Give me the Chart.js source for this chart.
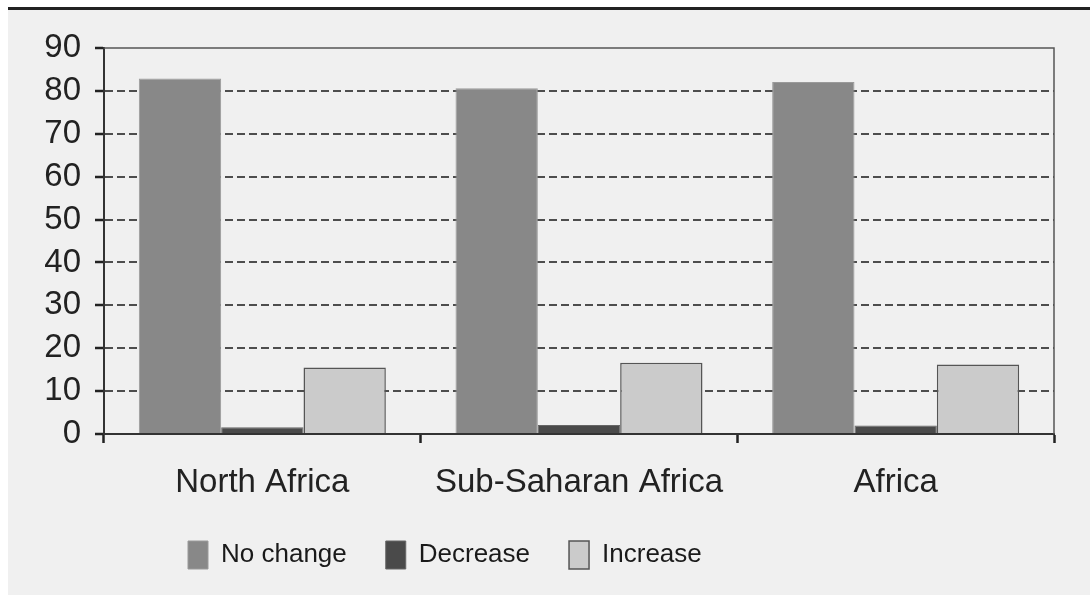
<!DOCTYPE html>
<html>
<head>
<meta charset="utf-8">
<script src="https://cdn.jsdelivr.net/npm/chart.js@4"></script>
<style>
  html, body { margin: 0; padding: 0; background: #fff; }
  #wrap {
    position: absolute; left: 8px; top: 7px;
    width: 1082px; height: 585px;
    background: #f0f0f0; border-top: 3px solid #222;
  }
</style>
</head>
<body>
<div id="wrap"><canvas id="chart" width="1082" height="585"></canvas></div>
<script>
'use strict';

// ------- Data ------- //
const regions = ['North Africa', 'Sub-Saharan Africa', 'Africa'];
const noChange = [82.9, 80.6, 82.1];
const decrease = [1.6, 2.1, 2.0];
const increase = [15.5, 16.6, 16.2];
const yTicks = [0, 10, 20, 30, 40, 50, 60, 70, 80, 90];

const font = "'Liberation Sans', Arial, sans-serif";

// frame on top and right of the plot area
const framePlugin = {
  id: 'frame',
  afterDraw(chart) {
    const { ctx, chartArea: a } = chart;
    ctx.save();
    ctx.strokeStyle = '#555';
    ctx.lineWidth = 1.5;
    ctx.beginPath();
    ctx.moveTo(a.left, a.top);
    ctx.lineTo(a.right, a.top);
    ctx.lineTo(a.right, a.bottom);
    ctx.stroke();
    ctx.restore();
  },
};

// put the legend where the original has it
const legendPlace = {
  id: 'legendPlace',
  afterLayout(chart) {
    const lg = chart.legend;
    lg.left = 141;
    lg.right = 1082;
    lg.top = 492;
  },
};

new Chart(document.getElementById('chart'), {
  type: 'bar',
  data: {
    labels: regions,
    datasets: [
      { label: 'No change', data: noChange, backgroundColor: '#888888', borderColor: '#9a9a9a', borderWidth: 1 },
      { label: 'Decrease', data: decrease, backgroundColor: '#4a4a4a', borderColor: '#666', borderWidth: 1 },
      { label: 'Increase', data: increase, backgroundColor: '#cbcbcb', borderColor: '#555', borderWidth: 1.5 },
    ],
  },
  options: {
    responsive: false,
    animation: false,
    layout: { padding: { top: 38, right: 36, left: 0, bottom: 0 } },
    datasets: { bar: { categoryPercentage: 0.78, barPercentage: 1 } },
    scales: {
      x: {
        afterFit: (s) => { s.height = 160; },
        grid: {
          offset: true,
          drawOnChartArea: false,
          tickLength: 9,
          tickColor: '#222',
          tickWidth: 2.5,
        },
        border: { color: '#333', width: 2 },
        ticks: { padding: 20, color: '#222', font: { family: font, size: 33 } },
      },
      y: {
        min: 0,
        max: 90,
        afterFit: (s) => { s.width = 96; },
        afterBuildTicks: (s) => { s.ticks = yTicks.map((v) => ({ value: v })); },
        grid: {
          color: (c) => (c.tick && (c.tick.value === 0 || c.tick.value === 90) ? 'rgba(0,0,0,0)' : '#4d4d4d'),
          lineWidth: 2,
          tickLength: 9,
          tickColor: '#222',
          tickWidth: 2.5,
          tickBorderDash: [],
        },
        border: { color: '#333', width: 2, dash: [8, 4] },
        ticks: { padding: 14, color: '#222', font: { family: font, size: 33 } },
      },
    },
    plugins: {
      legend: {
        position: 'bottom',
        align: 'start',
        maxHeight: 1,
        labels: {
          boxWidth: 20,
          boxHeight: 28,
          padding: 39,
          color: '#1a1a1a',
          font: { family: font, size: 26 },
        },
      },
      tooltip: { enabled: false },
    },
  },
  plugins: [framePlugin, legendPlace],
});
</script>
</body>
</html>
